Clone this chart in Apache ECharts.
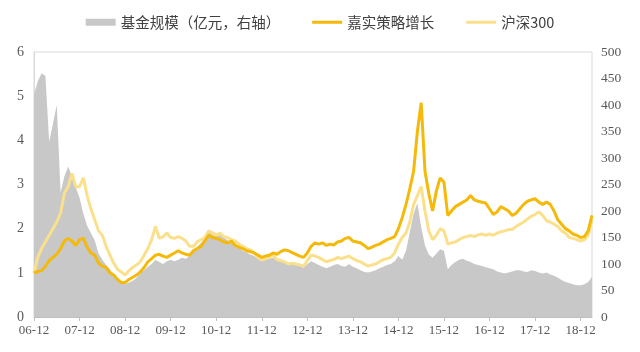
<!DOCTYPE html>
<html>
<head>
<meta charset="utf-8">
<script src="https://cdn.jsdelivr.net/npm/echarts@6/dist/echarts.min.js"></script>
<style>
  html, body { margin: 0; padding: 0; background: #fff; }
  #chart { width: 640px; height: 352px; }
</style>
</head>
<body>
<div id="chart"></div>
<script>
// monthly points, 06-12 .. 19-03
const startYear = 2006;
const startMonth = 12;

// 嘉实策略增长 (left axis)
const fundNav = [
  1.00, 1.03, 1.05, 1.15, 1.28, 1.35, 1.42, 1.55, 1.72, 1.78, 1.72, 1.62,
  1.75, 1.78, 1.58, 1.45, 1.40, 1.22, 1.15, 1.12, 1.00, 0.95, 0.85, 0.78,
  0.78, 0.85, 0.90, 0.95, 1.02, 1.12, 1.25, 1.32, 1.40, 1.42, 1.38, 1.35,
  1.40, 1.45, 1.50, 1.45, 1.42, 1.40, 1.50, 1.55, 1.60, 1.72, 1.85, 1.80,
  1.78, 1.75, 1.70, 1.68, 1.72, 1.62, 1.58, 1.55, 1.50, 1.48, 1.45, 1.40,
  1.35, 1.38, 1.40, 1.45, 1.42, 1.48, 1.52, 1.50, 1.46, 1.42, 1.38, 1.35,
  1.45, 1.60, 1.68, 1.65, 1.68, 1.62, 1.65, 1.63, 1.70, 1.72, 1.78, 1.80,
  1.72, 1.70, 1.68, 1.62, 1.55, 1.58, 1.62, 1.65, 1.70, 1.75, 1.78, 1.82,
  2.00, 2.25, 2.55, 2.90, 3.30, 4.20, 4.85, 3.30, 2.80, 2.40, 2.85, 3.15,
  3.05, 2.30, 2.40, 2.50, 2.55, 2.60, 2.65, 2.75, 2.65, 2.62, 2.60, 2.58,
  2.45, 2.32, 2.38, 2.50, 2.45, 2.40, 2.30, 2.35, 2.45, 2.55, 2.62, 2.65,
  2.68, 2.60, 2.55, 2.60, 2.55, 2.40, 2.20, 2.10, 2.00, 1.95, 1.88, 1.85,
  1.80, 1.82, 1.95, 2.30
];

// 沪深300 (left axis)
const hs300 = [
  1.00, 1.35, 1.55, 1.70, 1.85, 2.00, 2.15, 2.35, 2.80, 2.95, 3.25, 2.95,
  2.95, 3.15, 2.75, 2.45, 2.20, 1.95, 1.85, 1.60, 1.40, 1.22, 1.08, 1.02,
  0.95, 1.05, 1.12, 1.18, 1.25, 1.40, 1.55, 1.75, 2.05, 1.78, 1.82, 1.90,
  1.80, 1.78, 1.82, 1.78, 1.72, 1.60, 1.60, 1.70, 1.75, 1.80, 1.95, 1.90,
  1.85, 1.90, 1.82, 1.80, 1.75, 1.72, 1.65, 1.60, 1.55, 1.52, 1.45, 1.35,
  1.30, 1.32, 1.35, 1.40, 1.30, 1.28, 1.25, 1.20, 1.22, 1.20, 1.18, 1.15,
  1.28, 1.40, 1.38, 1.35, 1.30, 1.25, 1.28, 1.30, 1.35, 1.32, 1.35, 1.38,
  1.32, 1.28, 1.25, 1.20, 1.15, 1.18, 1.20, 1.25, 1.30, 1.32, 1.35, 1.45,
  1.65, 1.80, 1.90, 2.15, 2.55, 2.75, 2.95, 2.40, 1.95, 1.75, 1.85, 2.00,
  1.95, 1.65, 1.68, 1.70, 1.75, 1.80, 1.82, 1.85, 1.82, 1.86, 1.88, 1.85,
  1.88, 1.85, 1.90, 1.93, 1.95, 1.98, 1.98, 2.05, 2.10, 2.15, 2.22, 2.28,
  2.32, 2.38, 2.30, 2.18, 2.15, 2.10, 2.05, 1.95, 1.90, 1.80, 1.78, 1.75,
  1.72, 1.75, 1.85, 2.20
];

// 基金规模（亿元）(right axis)
const fundSize = [
  420, 445, 460, 455, 330, 365, 400, 235, 265, 284, 265, 245,
  225, 195, 172, 158, 145, 120, 108, 98, 90, 80, 72, 66,
  62, 65, 68, 74, 82, 88, 95, 100, 108, 104, 100, 105,
  108, 105, 108, 112, 110, 115, 125, 132, 140, 148, 160, 162,
  158, 155, 150, 145, 140, 135, 130, 125, 122, 118, 115, 110,
  105, 108, 110, 112, 106, 104, 103, 100, 102, 98, 96, 93,
  100, 105, 102, 98, 95, 92, 95, 98, 100, 96, 95, 100,
  95, 92, 88, 85, 84, 86, 88, 92, 95, 98, 100, 105,
  115, 108, 125, 160, 195, 215, 170, 135, 118, 112, 120, 128,
  125, 90, 98, 104, 108, 110, 106, 104, 100, 98, 96, 94,
  92, 90, 86, 84, 82, 84, 86, 88, 88, 86, 85, 88,
  87, 84, 82, 84, 80, 78, 74, 70, 66, 64, 62, 60,
  60, 62, 66, 76
];

const leftTicks = { min: 0, max: 6, interval: 1 };
const rightTicks = { min: 0, max: 500, interval: 50 };

const months = [];
for (let i = 0; i < fundNav.length; i++) {
  const m = (startMonth - 1 + i) % 12 + 1;
  const y = startYear + Math.floor((startMonth - 1 + i) / 12);
  months.push(String(y % 100).padStart(2, '0') + '-' + String(m).padStart(2, '0'));
}

const serif = "'Liberation Serif', 'DejaVu Serif', serif";
const lineIcon = 'path://M0,0 L30,0 L30,3 L0,3 Z';

const getOption = () => {
  return {
    animation: false,
    legend: {
      top: 10,
      left: 'center',
      itemGap: 32,
      itemWidth: 30,
      itemHeight: 7,
      textStyle: {
        fontFamily: "'Noto Sans CJK SC', serif",
        fontSize: 14.5,
        color: '#404040'
      },
      data: [
        { name: '基金规模（亿元，右轴）', icon: 'rect' },
        { name: '嘉实策略增长', icon: lineIcon },
        { name: '沪深300', icon: lineIcon }
      ]
    },
    grid: {
      left: 34,
      right: 48,
      top: 52,
      bottom: 35,
      show: true,
      borderColor: '#d9d9d9',
      borderWidth: 1
    },
    xAxis: {
      type: 'category',
      data: months,
      boundaryGap: false,
      axisLine: { lineStyle: { color: '#bfbfbf' } },
      axisTick: { interval: 11, length: 4, lineStyle: { color: '#bfbfbf' } },
      axisLabel: {
        interval: 11,
        color: '#595959',
        fontFamily: serif,
        fontSize: 13,
        margin: 7
      },
      splitLine: { show: false }
    },
    yAxis: [
      {
        type: 'value',
        min: leftTicks.min,
        max: leftTicks.max,
        interval: leftTicks.interval,
        axisLine: { show: true, lineStyle: { color: '#d9d9d9' } },
        axisTick: { show: false },
        splitLine: { show: false },
        axisLabel: { color: '#595959', fontFamily: serif, fontSize: 14, margin: 10 }
      },
      {
        type: 'value',
        min: rightTicks.min,
        max: rightTicks.max,
        interval: rightTicks.interval,
        axisLine: { show: false },
        axisTick: { show: false },
        splitLine: { show: false },
        axisLabel: { color: '#595959', fontFamily: serif, fontSize: 13.5, margin: 9 }
      }
    ],
    series: [
      {
        name: '基金规模（亿元，右轴）',
        type: 'line',
        yAxisIndex: 1,
        data: fundSize,
        symbol: 'none',
        lineStyle: { width: 0 },
        itemStyle: { color: '#c8c8c8' },
        areaStyle: { color: '#c8c8c8', opacity: 1 },
        z: 1
      },
      {
        name: '沪深300',
        type: 'line',
        data: hs300,
        symbol: 'none',
        itemStyle: { color: '#fbe08c' },
        lineStyle: { color: '#fbe08c', width: 3 },
        z: 2
      },
      {
        name: '嘉实策略增长',
        type: 'line',
        data: fundNav,
        symbol: 'none',
        itemStyle: { color: '#f4b909' },
        lineStyle: { color: '#f4b909', width: 3 },
        z: 3
      }
    ]
  };
};

window.addEventListener('load', () => {
  const chart = echarts.init(document.getElementById('chart'));
  chart.setOption(getOption());
});
</script>
</body>
</html>
